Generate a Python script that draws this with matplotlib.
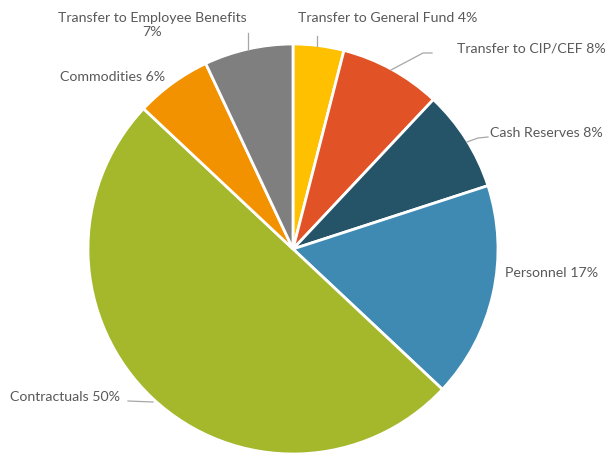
import matplotlib.pyplot as plt

# Budget shares, clockwise from the top
categories = ["Transfer to General Fund", "Transfer to CIP/CEF", "Cash Reserves",
              "Personnel", "Contractuals", "Commodities", "Transfer to Employee Benefits"]
shares = [4, 8, 8, 17, 50, 6, 7]
colors = ["#FFC000", "#E15327", "#255468", "#3F8AB3", "#A5B72A", "#F39200", "#7F7F7F"]

W, H = 611, 456
fig = plt.figure(figsize=(W / 100, H / 100), dpi=100)
ax = fig.add_axes([0, 0, 1, 1])

cx, cy, r = 293, H - 250, 205
ax.pie(shares, colors=colors, startangle=90, counterclock=False,
       center=(cx, cy), radius=r,
       wedgeprops=dict(edgecolor="white", linewidth=2))
ax.set_xlim(0, W)
ax.set_ylim(0, H)
ax.set_aspect("equal")
ax.axis("off")

txt = "#595959"
font = dict(family="Lato", fontsize=10.2, color=txt)

def label(i, x, y, ha="left", text=None):
    s = text if text else f"{categories[i]} {shares[i]}%"
    ax.text(x, H - y, s, ha=ha, va="center", **font)

def leader(pts):
    ax.plot([p[0] for p in pts], [H - p[1] for p in pts], color="#A6A6A6", lw=0.9)

label(0, 298, 18)
leader([(317, 37), (317, 47)])
label(1, 606, 48, ha="right")
leader([(432, 54), (423, 54), (391, 71)])
label(2, 490, 133)
leader([(488, 138), (478, 139), (467, 143)])
label(3, 505, 273)
label(4, 10, 397)
leader([(128, 402), (153, 403)])
label(5, 60, 77)
label(6, 152, 25, ha="center",
      text=f"{categories[6]}\n{shares[6]}%")
leader([(248, 34), (248, 51)])

fig.savefig("out.png", dpi=100)
